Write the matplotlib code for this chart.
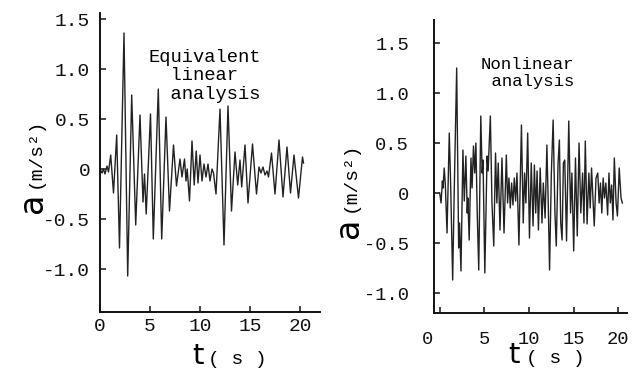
import matplotlib
matplotlib.use('Agg')
import matplotlib.pyplot as plt
from matplotlib.transforms import ScaledTranslation

# Equivalent linear analysis - peaks and troughs (t in s, a in m/s2)
eq_t = [0.0, 0.2, 0.35, 0.5, 0.7, 0.85, 1.07, 1.35, 1.67, 1.95,
        2.4, 2.77, 3.17, 3.57, 4.0, 4.3, 4.45, 4.62, 5.05, 5.33,
        5.83, 6.17, 6.6, 6.95, 7.35, 7.65, 8.0, 8.2, 8.45, 8.6,
        8.72, 8.95, 9.2, 9.42, 9.62, 9.8, 10.0, 10.2, 10.4, 10.6,
        10.8, 11.0, 11.2, 11.35, 11.6, 12.0, 12.4, 12.8, 13.15, 13.5,
        13.77, 14.0, 14.17, 14.5, 14.8, 15.25, 15.65, 15.9, 16.1, 16.3,
        16.5, 16.7, 16.85, 17.15, 17.5, 17.9, 18.3, 18.7, 19.05, 19.4,
        19.85, 20.25, 20.35]
eq_a = [0.0, -0.04, 0.0, -0.05, 0.03, -0.03, 0.14, -0.24, 0.34, -0.79,
        1.36, -1.07, 0.74, -0.56, 0.54, -0.33, -0.05, -0.45, 0.55, -0.7,
        0.8, -0.7, 0.52, -0.42, 0.24, -0.17, 0.1, -0.08, 0.1, -0.12,
        0.0, -0.32, 0.28, -0.16, 0.18, -0.14, 0.14, -0.12, 0.05, -0.08,
        0.05, -0.12, 0.0, -0.04, -0.25, 0.6, -0.76, 0.63, -0.42, 0.17,
        -0.16, 0.09, -0.18, 0.24, -0.34, 0.25, -0.25, 0.02, -0.04, 0.02,
        -0.06, -0.02, -0.08, 0.16, -0.25, 0.29, -0.28, 0.22, -0.24, 0.14,
        -0.29, 0.12, 0.06]

# Nonlinear analysis
nl_t = [0.0, 0.15, 0.3, 0.38, 0.5, 0.62, 0.82, 1.07, 1.22, 1.45,
        1.62, 1.9, 2.12, 2.22, 2.38, 2.6, 2.75, 2.93, 3.08, 3.15,
        3.3, 3.5, 3.62, 3.78, 3.92, 4.05, 4.2, 4.37, 4.6, 4.75,
        4.85, 5.05, 5.3, 5.42, 5.67, 5.85, 6.05, 6.25, 6.4, 6.55,
        6.75, 6.97, 7.2, 7.46, 7.6, 7.75, 7.9, 8.05, 8.2, 8.35,
        8.5, 8.65, 8.87, 9.15, 9.35, 9.5, 9.65, 9.85, 10.05, 10.25,
        10.45, 10.6, 10.75, 10.9, 11.05, 11.25, 11.45, 11.6, 11.8, 12.0,
        12.15, 12.3, 12.5, 12.7, 12.9, 13.05, 13.25, 13.4, 13.55, 13.7,
        13.85, 14.0, 14.2, 14.45, 14.65, 14.8, 15.0, 15.2, 15.4, 15.6,
        15.8, 16.0, 16.15, 16.3, 16.5, 16.7, 16.85, 17.0, 17.3, 17.5,
        17.7, 17.85, 18.0, 18.15, 18.3, 18.45, 18.6, 18.8, 18.95, 19.1,
        19.25, 19.4, 19.55, 19.75, 19.9, 20.1, 20.3, 20.45]
nl_a = [0.0, -0.1, 0.12, 0.05, 0.25, 0.1, -0.4, 0.6, 0.1, -0.87,
        0.0, 1.25, -0.55, -0.3, -0.78, 0.43, -0.08, 0.37, -0.2, -0.05,
        -0.47, 0.35, 0.05, 0.47, 0.2, 0.5, -0.2, -0.77, 0.77, 0.2,
        0.33, -0.8, 0.37, 0.22, 0.77, -0.1, -0.53, 0.4, -0.1, 0.3,
        -0.37, 0.35, -0.4, 0.38, -0.1, 0.15, -0.15, 0.1, -0.12, 0.15,
        -0.08, 0.2, -0.52, 0.68, -0.3, 0.2, -0.1, 0.6, -0.45, 0.3,
        -0.33, 0.28, -0.2, 0.22, -0.37, 0.25, -0.3, 0.1, -0.25, 0.48,
        -0.1, -0.77, 0.2, 0.73, -0.2, -0.53, 0.3, 0.53, -0.3, -0.47,
        0.3, 0.33, -0.48, 0.72, -0.2, 0.2, -0.58, 0.35, -0.43, 0.5,
        -0.2, 0.2, -0.3, 0.52, -0.31, 0.2, -0.15, 0.25, -0.33, 0.15,
        0.2, -0.1, 0.1, -0.2, 0.15, -0.05, 0.1, -0.22, 0.2, -0.1,
        0.08, -0.27, 0.35, -0.1, -0.23, 0.25, -0.05, -0.1]

y_ticks = [-1.0, -0.5, 0, 0.5, 1.0, 1.5]
y_labels = ['-1.0', '-0.5', '0', '0.5', '1.0', '1.5']
x_ticks = [0, 5, 10, 15, 20]
x_labels = ['0', '5', '10', '15', '20']

plt.rcParams['font.family'] = 'Liberation Mono'
W, H = 635, 371
fig = plt.figure(figsize=(W / 100, H / 100), dpi=100, facecolor='w')


def setup(ax, t, a, xlim, ylim, xpad, ypad, size):
    ax.plot(t, a, color='#222222', lw=1.0)
    for s in ('top', 'right'):
        ax.spines[s].set_visible(False)
    for s in ('left', 'bottom'):
        ax.spines[s].set_linewidth(1.4)
        ax.spines[s].set_color('#111111')
    ax.set_xlim(xlim)
    ax.set_ylim(ylim)
    ax.set_xticks(x_ticks, x_labels)
    ax.set_yticks(y_ticks, y_labels)
    ax.tick_params(direction='in', length=4, width=1.1, labelsize=size, colors='#111111')
    ax.tick_params(axis='x', pad=xpad)
    ax.tick_params(axis='y', pad=ypad)


# left panel
ax1 = fig.add_axes([100 / W, 1 - 312 / H, 220 / W, 299 / H])
setup(ax1, eq_t, eq_a, (0, 22), (-1.43, 1.56), 4, 7, 14)
ax1.text(148 / W, 1 - 76 / H, 'Equivalent\n  linear\n  analysis', transform=fig.transFigure,
         fontsize=13.5, va='center', ha='left', linespacing=1.15)

# right panel
ax2 = fig.add_axes([434 / W, 1 - 313 / H, 193 / W, 293 / H])
setup(ax2, nl_t, nl_a, (-0.64, 20.97), (-1.2, 1.73), 13, 18, 13.5)
ax2.text(481 / W, 1 - 73 / H, 'Nonlinear\n analysis', transform=fig.transFigure,
         fontsize=12.5, va='center', ha='left', linespacing=1.2)
lab0 = ax2.get_xticklabels()[0]
lab0.set_transform(lab0.get_transform() + ScaledTranslation(-0.12, 0, fig.dpi_scale_trans))

# axis labels
for tx, sx, base in [(198, 208, 364), (514, 526, 363)]:
    fig.text(tx / W, 1 - base / H, 't', fontsize=21, ha='center', va='baseline', family='DejaVu Sans')
    fig.text(sx / W, 1 - base / H, '( s )', fontsize=14, ha='left', va='baseline')

for ax_x, ay, my in [(33, 203, 153), (348, 228, 177)]:
    fig.text(ax_x / W, 1 - ay / H, 'a', fontsize=24, rotation=90, ha='center', va='center',
             family='DejaVu Sans')
    fig.text((ax_x + 2) / W, 1 - my / H, '(m/s²)', fontsize=14, rotation=90,
             ha='center', va='center')

fig.savefig('out.png', dpi=100, facecolor='w')
